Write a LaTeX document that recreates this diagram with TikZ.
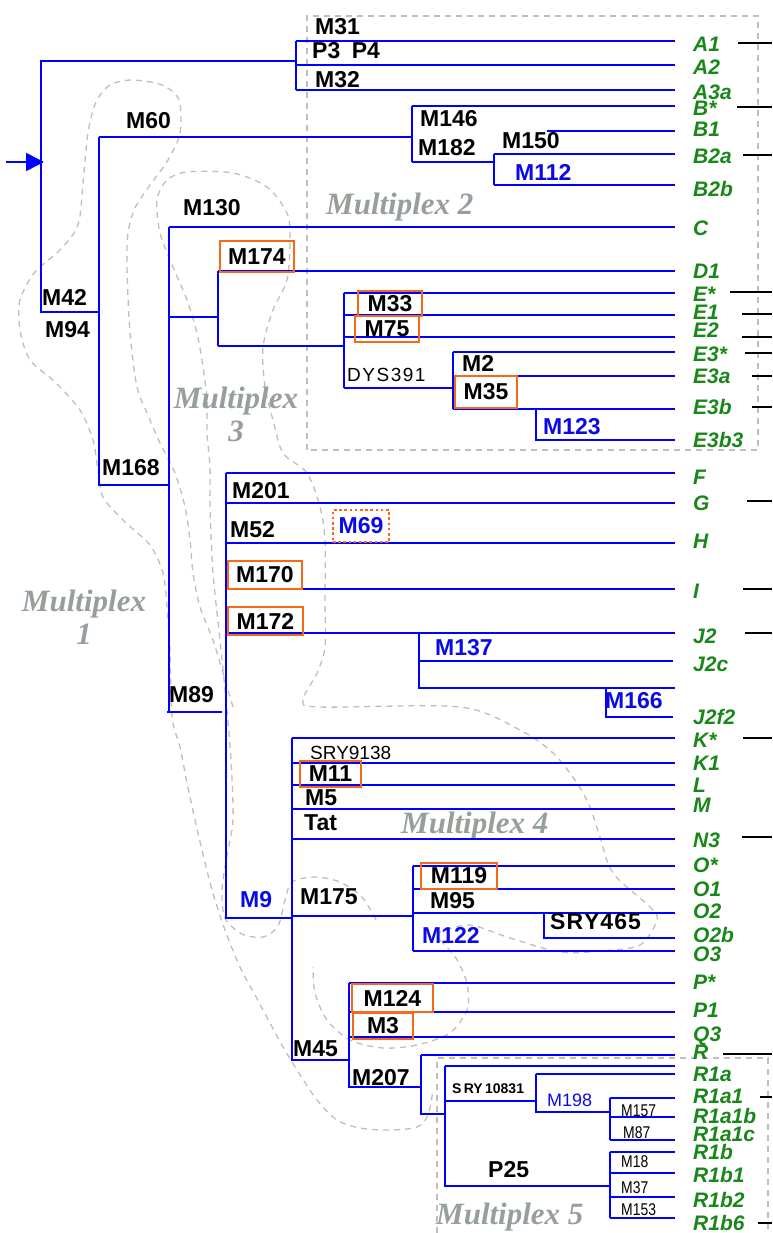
\documentclass[tikz,border=0pt]{standalone}
\usepackage{fontspec}
\usepackage{graphicx}
\setmainfont{Liberation Sans}
\newfontfamily\mpfont{Liberation Serif}
\usetikzlibrary{arrows.meta}
\definecolor{tb}{RGB}{0,0,255}
\definecolor{mb}{RGB}{10,10,230}
\definecolor{lg}{RGB}{25,135,25}
\definecolor{og}{RGB}{245,105,25}
\definecolor{mpg}{RGB}{150,160,152}
\definecolor{dsh}{RGB}{190,190,190}
\tikzset{
  br/.style={draw=tb,line width=1.5pt},
  tk/.style={draw=black,line width=1.3pt},
  dl/.style={draw=dsh,line width=1.3pt,dash pattern=on 6pt off 5pt},
  lf/.style={anchor=west,inner sep=0pt,text=lg,font=\fontsize{21}{21}\selectfont\bfseries\itshape},
  mk/.style={anchor=west,inner sep=0pt,font=\fontsize{23}{23}\selectfont\bfseries},
  mkb/.style={mk,text=mb},
  rg/.style={anchor=west,inner sep=0pt,font=\fontsize{19}{19}\selectfont},
  nar/.style={anchor=west,inner sep=0pt,font=\fontsize{17}{17}\selectfont},
  obox/.style={draw=og,line width=2.6pt,inner sep=0pt,font=\fontsize{23}{23}\selectfont\bfseries},
  mpl/.style={inner sep=0pt,text=mpg,font=\fontsize{31}{33}\selectfont\mpfont\bfseries\itshape,align=center}
}
\newcommand{\nr}[1]{\scalebox{0.82}[1]{#1}}
\newcommand{\ks}{\kern1.5pt}
\begin{document}
\begin{tikzpicture}[x=1pt,y=-1pt]
\useasboundingbox (0,0) rectangle (772,1233);
% ---------- dashed outlines ----------
\draw[dl] (307,450) -- (307,16) -- (758,16) -- (758,450) -- cycle;
\draw[dl] (437,1233) -- (437,1058) -- (768,1058) -- (768,1233);
% multiplex 1 band
\draw[dl] plot[smooth] coordinates {(233,707) (223,673) (213,640) (200,607) (193,573) (190,540) (185,507) (175,473) (160,443) (147,413) (137,387) (130,333) (127,267) (128,233) (135,208) (150,185) (168,160) (180,133) (179,100) (162,85) (132,80) (110,85) (96,102) (88,133) (83,183) (78,225) (60,250) (35,272) (20,300) (20,330) (30,360) (55,382) (80,410) (93,440) (98,470) (103,497) (125,522) (150,545) (163,573) (167,607) (170,650) (172,717) (180,747) (187,783) (195,820) (202,850) (212,890) (225,930) (240,967) (255,995) (270,1023) (283,1047) (297,1070) (317,1100) (337,1120) (360,1128) (390,1130) (417,1127) (428,1115) (433,1090)};
% multiplex 3 and multiplex 4 outline
\draw[dl] plot[smooth] coordinates {(376,920) (362,897) (340,882) (315,877) (292,882) (285,900) (278,926) (263,937) (242,934) (225,918) (222,890) (227,855) (233,820) (231,760) (226,700) (220,640) (213,573) (210,507) (210,467) (207,433) (207,400) (203,367) (197,333) (187,300) (173,267) (160,233) (157,200) (167,180) (187,172) (233,173) (267,187) (287,213) (290,240) (287,280) (273,310) (263,347) (265,387) (273,420) (283,453) (307,473) (320,507) (325,540) (325,600) (325,647) (317,673) (303,700) (320,707) (460,707) (520,730) (553,753) (577,783) (590,807) (600,837) (613,873) (650,907) (657,920) (640,945) (600,951) (560,952) (510,938) (470,925) (440,932)};
\draw[dl] plot[smooth] coordinates {(440,940) (456,958) (465,977) (468,990) (467,1010) (450,1033) (417,1045) (383,1048) (350,1040) (327,1020) (315,993) (313,967)};
% ---------- multiplex labels ----------
\node[mpl,anchor=west] (mp2) at (326,207) {Multiplex 2};
\node[mpl] (mp3) at (236,414) {Multiplex\\3};
\node[mpl] (mp1) at (84,617) {Multiplex\\1};
\node[mpl,anchor=west] (mp4) at (401,826) {Multiplex 4};
\node[mpl,anchor=west] (mp5) at (436,1217) {Multiplex 5};
% ---------- root ----------
\draw[br,-{Triangle[length=18pt,width=18pt]}] (6,162) -- (44,162);
\draw[br] (296,61) -- (41,61) -- (41,312) -- (99,312);
% A
\draw[br] (296,41) -- (296,90);
\draw[br] (296,41) -- (675,41);
\draw[br] (296,65) -- (675,65);
\draw[br] (296,90) -- (675,90);
\node[mk] (m31) at (315,27) {M31};
\node[mk] (p3) at (312,51) {P3\hspace{0.5em}P4};
\node[mk] (m32) at (315,80) {M32};
% B
\draw[br] (99,137) -- (412,137);
\draw[br] (99,137) -- (99,485) -- (169,485);
\node[mk] (m60) at (126,121) {M60};
\draw[br] (412,106) -- (412,162);
\draw[br] (412,106) -- (675,106);
\draw[br] (547,131) -- (675,131);
\draw[br] (412,162) -- (494,162);
\draw[br] (494,154) -- (494,185);
\draw[br] (494,154) -- (675,154);
\draw[br] (494,185) -- (675,185);
\node[mk] (m146) at (420,119) {M146};
\node[mk] (m182) at (418,148) {M182};
\node[mk] (m150) at (502,141) {M150};
\node[mkb] (m112) at (515,172) {M112};
% C D E
\draw[br] (169,227) -- (675,227);
\draw[br] (169,227) -- (169,712);
\node[mk] (m130) at (183,208) {M130};
\draw[br] (169,317) -- (218,317);
\draw[br] (218,271) -- (218,346);
\draw[br] (218,271) -- (675,271);
\draw[br] (218,346) -- (344,346);
\node[obox,minimum width=74pt,minimum height=31pt] (m174) at (257,256.5) {M174};
\draw[br] (344,293) -- (344,388);
\draw[br] (344,293) -- (675,293);
\draw[br] (344,315) -- (675,315);
\draw[br] (344,337) -- (675,337);
\node[obox,minimum width=64pt,minimum height=25pt] (m33) at (390,303.5) {M33};
\node[obox,minimum width=64pt,minimum height=26pt] (m75) at (387,329) {M75};
\node[rg] (dys) at (347,375) {D\ks Y\ks S\ks 3\ks 9\ks 1};
\draw[br] (344,388) -- (453,388);
\draw[br] (453,352) -- (453,409);
\draw[br] (453,352) -- (675,352);
\draw[br] (453,376) -- (675,376);
\draw[br] (453,409) -- (675,409);
\node[mk] (m2) at (462,363) {M2};
\node[obox,minimum width=62pt,minimum height=32pt] (m35) at (486,392) {M35};
\draw[br] (536,409) -- (536,440) -- (675,440);
\node[mkb] (m123) at (543,427) {M123};
\node[mk] (m42) at (42,297) {M42};
\node[mk] (m94) at (45,330) {M94};
\node[mk] (m168) at (102,468) {M168};
% F - J
\draw[br] (226,473) -- (226,918) -- (292,918);
\draw[br] (226,473) -- (675,473);
\draw[br] (226,503) -- (675,503);
\draw[br] (226,543) -- (675,543);
\draw[br] (226,589) -- (675,589);
\draw[br] (226,633) -- (675,633);
\node[mk] (m201) at (232,491) {M201};
\node[mk] (m52) at (230,530) {M52};
\node[draw=og,line width=2.6pt,dash pattern=on 2.6pt off 2.6pt,inner sep=0pt,text=mb,font=\fontsize{23}{23}\selectfont\bfseries,minimum width=56pt,minimum height=32pt] (m69) at (361,526) {M69};
\node[obox,minimum width=74pt,minimum height=28pt] (m170) at (265,575) {M170};
\node[obox,minimum width=75pt,minimum height=28pt] (m172) at (265.5,621) {M172};
\draw[br] (419,633) -- (419,688) -- (675,688);
\draw[br] (419,661) -- (673,661);
\node[mkb] (m137) at (435,648) {M137};
\draw[br] (606,688) -- (606,717) -- (673,717);
\node[mkb] (m166) at (605,701) {M166};
\draw[br] (167,712) -- (222,712);
\node[mk] (m89) at (169,695) {M89};
% K - O
\draw[br] (292,738) -- (292,1060) -- (349,1060);
\draw[br] (292,738) -- (675,738);
\draw[br] (292,763) -- (675,763);
\draw[br] (292,785) -- (675,785);
\draw[br] (292,809) -- (675,809);
\draw[br] (292,839) -- (675,839);
\node[rg] (sry9) at (310,753) {SRY9138};
\node[obox,minimum width=61pt,minimum height=26pt] (m11) at (330.5,774) {M11};
\node[mk] (m5) at (305,798) {M5};
\node[mk] (tat) at (304,823) {Tat};
\draw[br] (292,916) -- (413,916);
\draw[br] (413,866) -- (413,951);
\draw[br] (413,866) -- (675,866);
\draw[br] (413,889) -- (675,889);
\draw[br] (413,913) -- (675,913);
\draw[br] (413,951) -- (675,951);
\draw[br] (544,913) -- (544,938) -- (675,938);
\node[obox,minimum width=76pt,minimum height=26pt] (m119) at (459,876) {M119};
\node[mk] (m95) at (430,901) {M95};
\node[mkb] (m122) at (422,935) {M122};
\node[mk] (sry465) at (550,922) {S\kern1pt R\kern1pt Y\kern1pt 4\kern1pt 6\kern1pt 5};
\node[mkb] (m9) at (240,900) {M9};
\node[mk] (m175) at (300,897) {M175};
% P - R
\draw[br] (349,983) -- (349,1087) -- (421,1087);
\draw[br] (349,983) -- (675,983);
\draw[br] (349,1012) -- (675,1012);
\draw[br] (349,1037) -- (675,1037);
\node[obox,minimum width=81pt,minimum height=28pt] (m124) at (392.5,998) {M124};
\node[obox,minimum width=60pt,minimum height=26pt] (m3) at (383,1026) {M3};
\node[mk] (m45) at (293,1049) {M45};
\node[mk] (m207) at (352,1078) {M207};
\draw[br] (421,1055) -- (421,1114) -- (445,1114);
\draw[br] (421,1055) -- (675,1055);
\draw[br] (445,1066) -- (445,1186) -- (610,1186);
\draw[br] (445,1066) -- (675,1066);
\draw[br] (445,1101) -- (536,1101);
\draw[br] (536,1074) -- (536,1112) -- (610,1112);
\draw[br] (536,1074) -- (675,1074);
\draw[br] (610,1098) -- (610,1140);
\draw[br] (610,1098) -- (675,1098);
\draw[br] (610,1117) -- (675,1117);
\draw[br] (610,1140) -- (675,1140);
\draw[br] (610,1152) -- (610,1218);
\draw[br] (610,1152) -- (675,1152);
\draw[br] (610,1173) -- (675,1173);
\draw[br] (610,1197) -- (675,1197);
\draw[br] (610,1218) -- (675,1218);
\node[anchor=west,inner sep=0pt,font=\fontsize{14}{14}\selectfont\bfseries] (sry10) at (452,1089) {S\,RY\,10831};
\node[rg,text=mb,font=\fontsize{18}{18}\selectfont] (m198) at (547,1100) {M198};
\node[nar] (m157) at (621,1111) {\nr{M157}};
\node[nar] (m87) at (623,1133) {\nr{M87}};
\node[nar] (m18) at (621,1162) {\nr{M18}};
\node[nar] (m37) at (621,1188) {\nr{M37}};
\node[nar] (m153) at (621,1210) {\nr{M153}};
\node[mk] (p25) at (488,1170) {P25};
% ---------- leaf labels ----------
\node[lf] (A1) at (693,44) {A1};
\node[lf] (A2) at (693,67) {A2};
\node[lf] (A3a) at (693,92) {A3a};
\node[lf] (Bs) at (693,108) {B*};
\node[lf] (B1) at (693,129) {B1};
\node[lf] (B2a) at (693,156) {B2a};
\node[lf] (B2b) at (693,189) {B2b};
\node[lf] (C) at (693,228) {C};
\node[lf] (D1) at (693,271) {D1};
\node[lf] (Es) at (693,294) {E*};
\node[lf] (E1) at (693,312) {E1};
\node[lf] (E2) at (693,330) {E2};
\node[lf] (E3s) at (693,354) {E3*};
\node[lf] (E3a) at (693,376) {E3a};
\node[lf] (E3b) at (693,407) {E3b};
\node[lf] (E3b3) at (693,440) {E3b3};
\node[lf] (F) at (693,477) {F};
\node[lf] (G) at (693,503) {G};
\node[lf] (H) at (693,541) {H};
\node[lf] (I) at (693,591) {I};
\node[lf] (J2) at (693,636) {J2};
\node[lf] (J2c) at (693,664) {J2c};
\node[lf] (J2f2) at (693,717) {J2f2};
\node[lf] (Ks) at (693,740) {K*};
\node[lf] (K1) at (693,763) {K1};
\node[lf] (L) at (693,785) {L};
\node[lf] (M) at (693,805) {M};
\node[lf] (N3) at (693,840) {N3};
\node[lf] (Os) at (693,865) {O*};
\node[lf] (O1) at (693,889) {O1};
\node[lf] (O2) at (693,911) {O2};
\node[lf] (O2b) at (693,935) {O2b};
\node[lf] (O3) at (693,954) {O3};
\node[lf] (Ps) at (693,982) {P*};
\node[lf] (P1) at (693,1010) {P1};
\node[lf] (Q3) at (693,1036) {Q3};
\node[lf] (R) at (693,1052) {R};
\node[lf] (R1a) at (693,1074) {R1a};
\node[lf] (R1a1) at (693,1096) {R1a1};
\node[lf] (R1a1b) at (693,1116) {R1a1b};
\node[lf] (R1a1c) at (693,1134) {R1a1c};
\node[lf] (R1b) at (693,1152) {R1b};
\node[lf] (R1b1) at (693,1175) {R1b1};
\node[lf] (R1b2) at (693,1200) {R1b2};
\node[lf] (R1b6) at (693,1223) {R1b6};
% ---------- black ticks ----------
\foreach \xs/\ys in {738/43,737/107,743/155,730/292,742/314,742/337,745/353,752/376,752/407,747/501,743/589,745/633,743/738,742/837,723/1054,760/1097,758/1223}
  \draw[tk] (\xs,\ys) -- (772,\ys);
\end{tikzpicture}
\end{document}
